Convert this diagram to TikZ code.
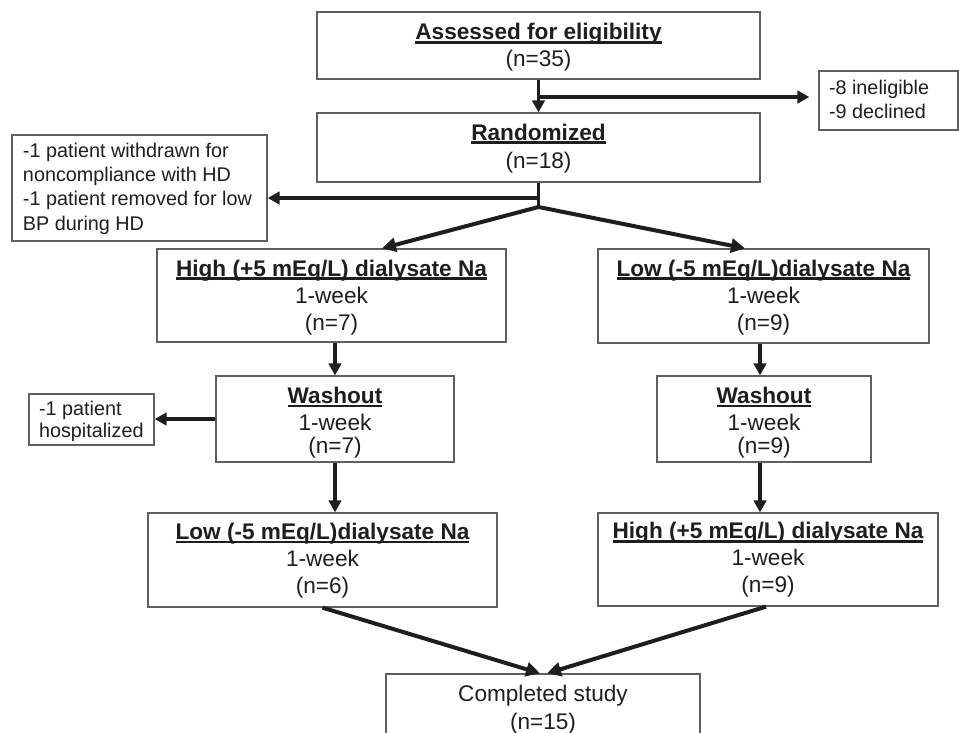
\documentclass[tikz,border=0pt]{standalone}
\usepackage{fontspec}
\setmainfont{Liberation Sans}
\usetikzlibrary{arrows.meta}
\definecolor{ink}{RGB}{30,30,30}
\definecolor{frame}{RGB}{95,95,95}
\newsavebox\ulbox
\newcommand\ulin[1]{\sbox\ulbox{#1}\rlap{\rule[-4pt]{\wd\ulbox}{2.6pt}}\usebox\ulbox}
\newcommand\bigf[1]{\fontsize{22.6pt}{#1}\selectfont}
\newcommand\smallf[1]{\fontsize{19.8pt}{#1}\selectfont}
% #1 width, #2 height, #3 first baseline from top, #4 setup, #5 text
\newcommand\boxtext[5]{\vbox to #2{\hsize=#1\relax\parindent=0pt\parskip=0pt\lineskiplimit=-100pt\lineskip=0pt\relax#4\kern\dimexpr#3-18pt\relax\noindent\rule{0pt}{18pt}#5\par\vss}}
\tikzset{
  box/.style={draw=frame, line width=1.3pt, inner sep=0pt, text=ink},
  arr/.style={draw=ink, line width=3.5pt, -{Triangle[length=12pt,width=12.5pt]}},
  diag/.style={draw=ink, line width=4pt, line join=miter},
  plain/.style={draw=ink, line width=3.5pt},
}
\begin{document}
\begin{tikzpicture}[x=1pt,y=-1pt]
\clip (0,0) rectangle (959,732);
\fill[white] (0,0) rectangle (959,732);

\node[box] (elig) at (538.5,45.5) {\boxtext{443pt}{67pt}{27.5pt}{\centering\bigf{27.3pt}}{\ulin{\bfseries Assessed for eligibility}\\(n=35)}};
\node[box] (rand) at (538.5,147.5) {\boxtext{443pt}{69pt}{27pt}{\centering\bigf{28pt}}{\ulin{\bfseries Randomized}\\(n=18)}};
\node[box] (inel) at (888.5,100.5) {\boxtext{139pt}{59pt}{23.3pt}{\raggedright\leftskip=10pt\smallf{24pt}}{-8 ineligible\\-9 declined}};
\node[box] (excl) at (139.5,188) {\boxtext{255pt}{106pt}{22.3pt}{\raggedright\leftskip=11pt\smallf{24.3pt}}{-1 patient withdrawn for\\noncompliance with HD\\-1 patient removed for low\\BP during HD}};
\node[box] (high1) at (331.5,295.5) {\boxtext{349pt}{93pt}{27pt}{\centering\bigf{27.3pt}}{\ulin{\bfseries High (+5 mEq/L) dialysate Na}\\1-week\\(n=7)}};
\node[box] (low1) at (763.5,296) {\boxtext{331pt}{94pt}{27pt}{\centering\bigf{27.3pt}}{\ulin{\bfseries Low (-5 mEq/L)dialysate Na}\\1-week\\(n=9)}};
\node[box] (wash1) at (335,419) {\boxtext{238pt}{86pt}{27.3pt}{\centering\bigf{27.3pt}}{\ulin{\bfseries Washout}\\1-week\\[-4.7pt](n=7)}};
\node[box] (hosp) at (91.5,419.5) {\boxtext{125pt}{51pt}{21pt}{\raggedright\leftskip=10pt\smallf{22.3pt}}{-1 patient\\hospitalized}};
\node[box] (wash2) at (764,419) {\boxtext{214pt}{86pt}{27.3pt}{\centering\bigf{27.3pt}}{\ulin{\bfseries Washout}\\1-week\\[-4.7pt](n=9)}};
\node[box] (low2) at (322.5,560) {\boxtext{349pt}{94pt}{26.3pt}{\centering\bigf{27pt}}{\ulin{\bfseries Low (-5 mEq/L)dialysate Na}\\1-week\\(n=6)}};
\node[box] (high2) at (768,559.5) {\boxtext{340pt}{93pt}{25.5pt}{\centering\bigf{27pt}}{\ulin{\bfseries High (+5 mEq/L) dialysate Na}\\1-week\\(n=9)}};
\node[box] (comp) at (543,714) {\boxtext{314pt}{80pt}{27.7pt}{\centering\bigf{27.3pt}}{Completed study\\(n=15)}};

\coordinate (b1) at (538.5,97);
\coordinate (b3) at (538.5,198);
\coordinate (b2) at (538.5,207);

\draw[arr] (elig.south) -- (rand.north);
\draw[arr, shorten >=9pt] (b1) -- (b1 -| inel.west);
\draw[plain] (rand.south) -- (b2);
\draw[arr] (b3) -- (b3 -| excl.east);
\draw[diag, {Triangle[length=14pt,width=14pt]}-{Triangle[length=14pt,width=14pt]}]
  ([xshift=50.5pt]high1.north) -- (b2) -- ([xshift=-18.5pt]low1.north);

\draw[arr] (wash1.north |- high1.south) -- (wash1.north);
\draw[arr] (wash1.west) -- (wash1.west -| hosp.east);
\draw[arr] (wash1.south) -- (wash1.south |- low2.north);
\draw[arr] ([xshift=-4pt]wash2.north |- low1.south) -- ([xshift=-4pt]wash2.north);
\draw[arr] ([xshift=-4pt]wash2.south) -- ([xshift=-4pt]wash2.south |- high2.north);

\draw[diag, -{Triangle[length=14pt,width=14pt]}] (low2.south) -- ([xshift=-3pt]comp.north);
\draw[diag, -{Triangle[length=14pt,width=14pt]}] ([xshift=-2pt]high2.south) -- ([xshift=4pt]comp.north);
\end{tikzpicture}
\end{document}
